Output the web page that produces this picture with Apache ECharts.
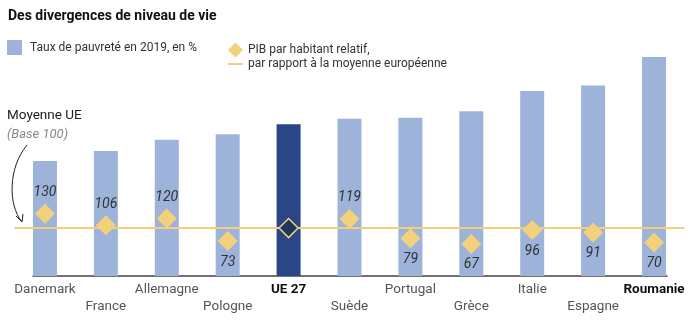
<!DOCTYPE html>
<html><head><meta charset="utf-8">
<script src="https://cdn.jsdelivr.net/npm/echarts@6/dist/echarts.min.js"></script>
<style>html,body{margin:0;padding:0;background:#fff}#c{width:700px;height:329px}</style>
</head><body><div id="c"></div>
<script>
const categories = ['Danemark','France','Allemagne','Pologne','UE 27','Suède','Portugal','Grèce','Italie','Espagne','Roumanie'];
const povertyRate = [12.5,13.6,14.8,15.4,16.5,17.1,17.2,17.9,20.1,20.7,23.8];
const gdpRelative = [130,106,120,73,100,119,79,67,96,91,70];
const boldCategories = ['UE 27','Roumanie'];
const euCategory = 'UE 27';
const euAverage = 100;

const FONT = 'Roboto';
const chart = echarts.init(document.getElementById('c'));

const barData = povertyRate.map((v, i) => categories[i] === euCategory
  ? {value: v, itemStyle: {color: '#2a4686'}} : v);
const scatterData = gdpRelative.map((v, i) => categories[i] === euCategory
  ? {value: v, symbolSize: 19, itemStyle: {color: '#1f355f', borderColor: '#f3d27a', borderWidth: 1.5}, label: {show: false}}
  : {value: v, label: {position: v > euAverage ? 'top' : 'bottom'}});

chart.setOption({
  animation: false,
  textStyle: {fontFamily: FONT},
  title: {text: 'Des divergences de niveau de vie', left: 3, top: 4,
    textStyle: {fontFamily: FONT, fontSize: 14, fontWeight: 'bold', color: '#111'}},
  legend: [
    {data: ['Taux de pauvreté en 2019, en %'], left: 2, top: 35, itemWidth: 15, itemHeight: 15, icon: 'rect',
      textStyle: {fontFamily: FONT, fontSize: 12, color: '#333', padding: [0, 0, 0, 3]}, selectedMode: false},
    {data: ['PIB par habitant relatif,'], left: 223, top: 37.5, itemWidth: 15, itemHeight: 15, icon: 'diamond',
      textStyle: {fontFamily: FONT, fontSize: 12, color: '#333'}, selectedMode: false},
    {data: ['par rapport à la moyenne européenne'], left: 223, top: 53, itemWidth: 15, itemHeight: 2, icon: 'rect',
      textStyle: {fontFamily: FONT, fontSize: 12, color: '#333'}, selectedMode: false}
  ],
  grid: [
    {left: 14.5, right: 15.5, top: 46, bottom: 53},
    {left: 33, right: 33, top: 46, bottom: 53}
  ],
  xAxis: [
    {type: 'category', data: categories, gridIndex: 0,
      axisLine: {show: false}, axisTick: {show: false},
      axisLabel: {interval: 0, margin: 5, fontFamily: FONT, fontSize: 13.5, color: '#555', lineHeight: 17,
        formatter: (v, i) => {
          const t = boldCategories.includes(v) ? '{b|' + v + '}' : v;
          return i % 2 ? '\n' + t : t;
        },
        rich: {b: {fontFamily: FONT, fontSize: 13.5, fontWeight: 'bold', color: '#111', lineHeight: 17}}}},
    {type: 'value', gridIndex: 1, min: 0, max: 1,
      axisLine: {show: true, lineStyle: {color: '#444', width: 1.5}},
      axisTick: {show: false}, axisLabel: {show: false}, splitLine: {show: false}}
  ],
  yAxis: [
    {type: 'value', gridIndex: 0, min: 0, max: 25, show: false},
    {type: 'value', gridIndex: 0, min: 0, max: 480, show: false},
    {type: 'value', gridIndex: 1, min: 0, max: 1, show: false}
  ],
  series: [
    {name: 'Taux de pauvreté en 2019, en %', type: 'bar', xAxisIndex: 0, yAxisIndex: 0,
      data: barData, barWidth: 24, itemStyle: {color: '#9db3da'}, silent: true, z: 1},
    {name: 'par rapport à la moyenne européenne', type: 'line', xAxisIndex: 0, yAxisIndex: 1,
      data: [], itemStyle: {color: '#f3cf7c'}, lineStyle: {color: '#f3cf7c'}, z: 2,
      markLine: {silent: true, symbol: 'none', label: {show: false},
        lineStyle: {color: '#f3cf7c', width: 2, type: 'solid'},
        data: [{yAxis: euAverage}]}},
    {name: 'PIB par habitant relatif,', type: 'scatter', xAxisIndex: 0, yAxisIndex: 1,
      data: scatterData, symbol: 'diamond', symbolSize: 20, z: 5,
      itemStyle: {color: '#f3d07a', opacity: 1},
      label: {show: true, distance: 4, fontFamily: FONT, fontSize: 14, fontStyle: 'italic', color: '#333'}}
  ],
  graphic: [
    {type: 'text', left: 7, top: 109, style: {text: 'Moyenne UE', font: '13.5px ' + FONT, fill: '#222'}},
    {type: 'text', left: 7, top: 128, style: {text: '(Base 100)', font: 'italic 13px ' + FONT, fill: '#888'}},
    {type: 'bezierCurve', shape: {x1: 27, y1: 145, cpx1: 8, cpy1: 168, cpx2: 8, cpy2: 205, x2: 22, y2: 222},
      style: {stroke: '#222', lineWidth: 1, fill: null}},
    {type: 'polyline', shape: {points: [[16, 216], [22, 222], [23, 214]]},
      style: {stroke: '#222', lineWidth: 1, fill: null}}
  ]
});
</script></body></html>
